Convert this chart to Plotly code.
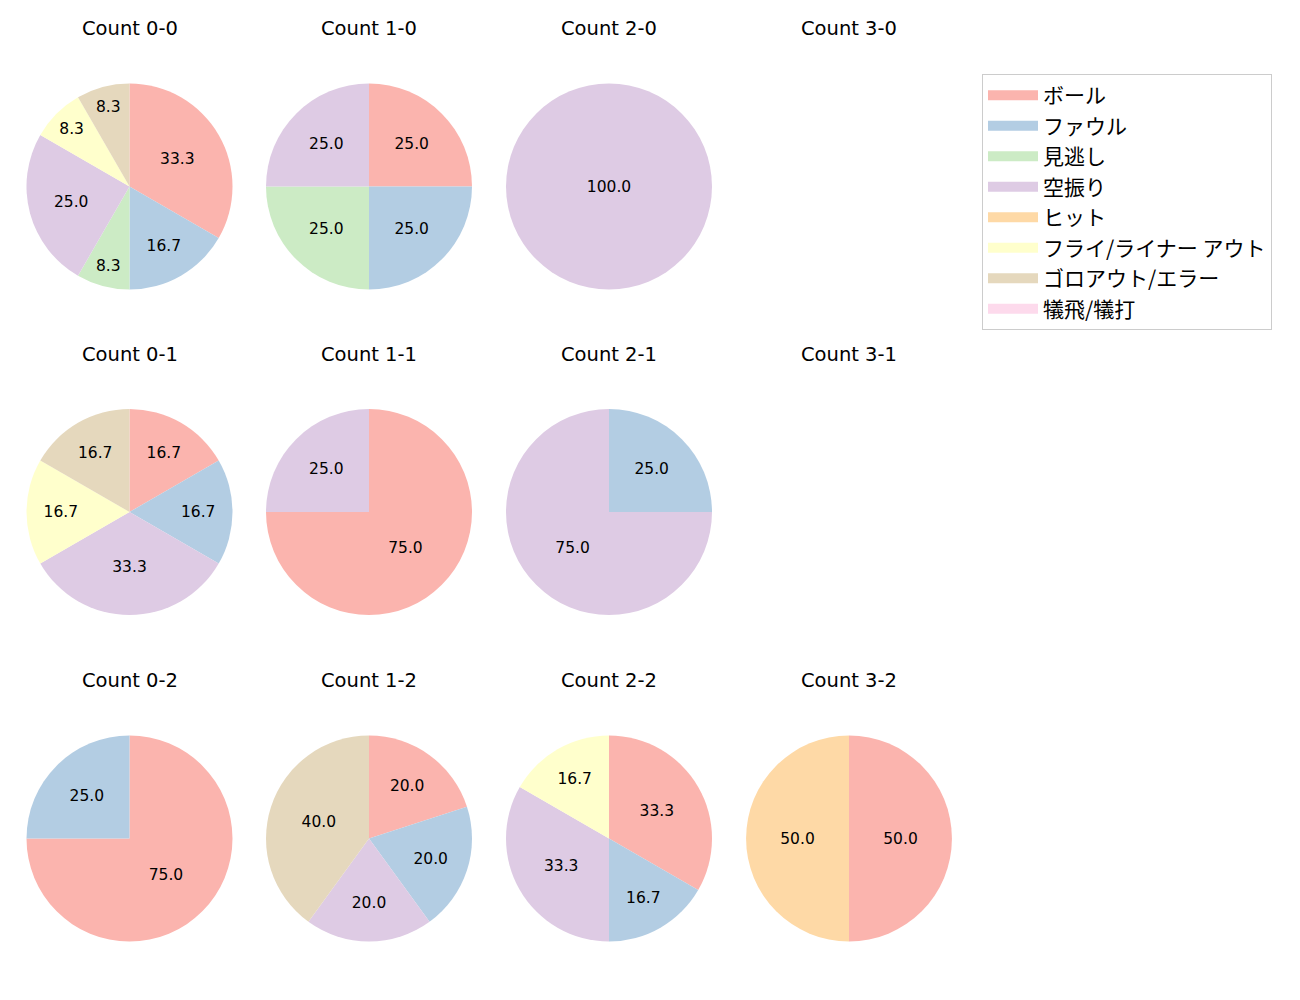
import plotly.graph_objects as go

# 球種結果ラベル (凡例順)
LABELS = ["ボール", "ファウル", "見逃し", "空振り", "ヒット",
          "フライ/ライナー アウト", "ゴロアウト/エラー", "犠飛/犠打"]
COLORS = ["#fbb4ae", "#b3cde3", "#ccebc5", "#decbe4", "#fed9a6",
          "#ffffcc", "#e5d8bd", "#fddaec"]

# カウントごとの件数 (LABELS と同じ順)
COUNT_0_0 = [4, 2, 1, 3, 0, 1, 1, 0]
COUNT_1_0 = [1, 1, 1, 1, 0, 0, 0, 0]
COUNT_2_0 = [0, 0, 0, 1, 0, 0, 0, 0]
COUNT_3_0 = [0, 0, 0, 0, 0, 0, 0, 0]
COUNT_0_1 = [1, 1, 0, 2, 0, 1, 1, 0]
COUNT_1_1 = [3, 0, 0, 1, 0, 0, 0, 0]
COUNT_2_1 = [0, 1, 0, 3, 0, 0, 0, 0]
COUNT_3_1 = [0, 0, 0, 0, 0, 0, 0, 0]
COUNT_0_2 = [3, 1, 0, 0, 0, 0, 0, 0]
COUNT_1_2 = [1, 1, 0, 1, 0, 0, 2, 0]
COUNT_2_2 = [2, 1, 0, 2, 0, 1, 0, 0]
COUNT_3_2 = [1, 0, 0, 0, 1, 0, 0, 0]

GRID = [
    [("Count 0-0", COUNT_0_0), ("Count 1-0", COUNT_1_0), ("Count 2-0", COUNT_2_0), ("Count 3-0", COUNT_3_0)],
    [("Count 0-1", COUNT_0_1), ("Count 1-1", COUNT_1_1), ("Count 2-1", COUNT_2_1), ("Count 3-1", COUNT_3_1)],
    [("Count 0-2", COUNT_0_2), ("Count 1-2", COUNT_1_2), ("Count 2-2", COUNT_2_2), ("Count 3-2", COUNT_3_2)],
]

# ページの body margin (8px) を差し引いた描画領域
OFF = 8
W, H = 1300 - OFF, 1000 - OFF
COL_X = [129.5, 369, 609, 849]
ROW_Y = [186.5, 512, 838.5]
R = 103
FONT = "DejaVu Sans, Noto Sans CJK JP"
JP_FONT = "Noto Sans CJK JP"


def px(x):
    return (x - OFF) / W


def py(y):
    return 1 - (y - OFF) / H


fig = go.Figure()
for r, row in enumerate(GRID):
    for c, (title, vals) in enumerate(row):
        cx, cy = COL_X[c], ROW_Y[r]
        fig.add_annotation(
            text=title, x=px(cx), y=py(cy - 158), xref="paper", yref="paper",
            showarrow=False, font=dict(size=19.5, color="black", family=FONT),
            xanchor="center", yanchor="middle")
        total = sum(vals)
        if total == 0:
            continue
        txt = [f"{v / total * 100:.1f}" if v > 0 else "" for v in vals]
        fig.add_trace(go.Pie(
            labels=LABELS, values=vals, text=txt, textinfo="text",
            textposition="inside", insidetextorientation="horizontal",
            textfont=dict(size=15.5, color="black", family=FONT),
            marker=dict(colors=COLORS, line=dict(width=0)),
            sort=False, direction="clockwise", rotation=0,
            showlegend=False, hoverinfo="label+value+percent",
            domain=dict(x=[px(cx - R), px(cx + R)], y=[py(cy + R), py(cy - R)]),
        ))

# 凡例用のダミー系列 (横長の色見本を出すため)
for lab, col in zip(LABELS, COLORS):
    fig.add_trace(go.Scatter(
        x=[None], y=[None], mode="lines", name=lab, legendgroup=lab,
        line=dict(color=col, width=13), hoverinfo="skip",
    ))

fig.update_layout(
    width=W, height=H,
    margin=dict(l=0, r=0, t=0, b=0),
    paper_bgcolor="white", plot_bgcolor="white",
    xaxis=dict(visible=False), yaxis=dict(visible=False),
    font=dict(family=FONT, size=15.5, color="black"),
    uniformtext=dict(minsize=15, mode="show"),
    legend=dict(
        x=px(982), y=py(74), xanchor="left", yanchor="top",
        bordercolor="#cccccc", borderwidth=1, bgcolor="white",
        font=dict(size=21, family=JP_FONT),
        traceorder="grouped", tracegroupgap=0.2,
        itemwidth=50,
    ),
)

fig.write_html("out.html")
